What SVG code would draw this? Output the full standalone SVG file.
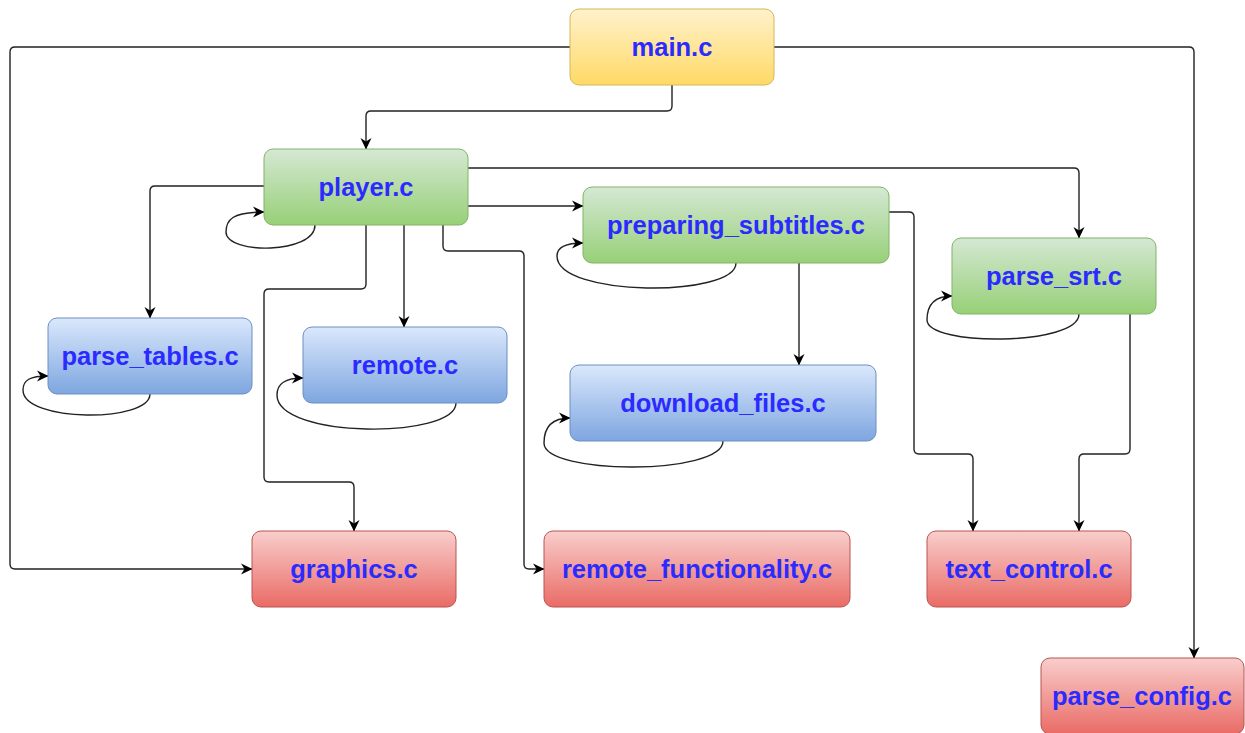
<svg xmlns="http://www.w3.org/2000/svg" width="1245" height="733" viewBox="0 0 1245 733">
<defs>
<linearGradient id="gY" x1="0" y1="0" x2="0" y2="1"><stop offset="0" stop-color="#fff2cc"/><stop offset="1" stop-color="#ffd966"/></linearGradient>
<linearGradient id="gG" x1="0" y1="0" x2="0" y2="1"><stop offset="0" stop-color="#d5e8d4"/><stop offset="1" stop-color="#97d077"/></linearGradient>
<linearGradient id="gB" x1="0" y1="0" x2="0" y2="1"><stop offset="0" stop-color="#dae8fc"/><stop offset="1" stop-color="#7ea6e0"/></linearGradient>
<linearGradient id="gR" x1="0" y1="0" x2="0" y2="1"><stop offset="0" stop-color="#f8cecc"/><stop offset="1" stop-color="#ea6b66"/></linearGradient>
<marker id="arr" markerWidth="14" markerHeight="14" refX="12" refY="7" orient="auto" markerUnits="userSpaceOnUse" viewBox="0 0 14 14">
<path d="M1,1.5 L12.5,7 L1,12.5 L4.5,7 Z" fill="#000"/>
</marker>
</defs>
<style>
.y{fill:url(#gY);stroke:#d6b656;stroke-width:1}
.g{fill:url(#gG);stroke:#82b366;stroke-width:1}
.b{fill:url(#gB);stroke:#6c8ebf;stroke-width:1}
.r{fill:url(#gR);stroke:#b85450;stroke-width:1}
text{font-family:"Liberation Sans",Arial,sans-serif;font-weight:bold;font-size:25.5px;fill:#2b2bff;text-anchor:middle}
#edges path{fill:none;stroke:#222;stroke-width:1.4;marker-end:url(#arr)}
</style>
<g id="edges">
<path d="M570,47 L15,47 Q10,47 10,52 L10,564 Q10,569 15,569 L252,569"/>
<path d="M774,47 L1189,47 Q1194,47 1194,52 L1194,658"/>
<path d="M672,85 L672,106 Q672,111 667,111 L371,111 Q366,111 366,116 L366,149"/>
<path d="M264,186 L155,186 Q150,186 150,191 L150,318"/>
<path d="M366,225 L366,284 Q366,289 361,289 L269,289 Q264,289 264,294 L264,477 Q264,482 269,482 L349,482 Q354,482 354,487 L354,531"/>
<path d="M404,225 L404,327"/>
<path d="M443,225 L443,246 Q443,251 448,251 L519,251 Q524,251 524,256 L524,564 Q524,569 529,569 L544,569"/>
<path d="M468,206 L583,206"/>
<path d="M468,168 L1074,168 Q1079,168 1079,173 L1079,238"/>
<path d="M799,263 L799,365"/>
<path d="M889,212 L909,212 Q914,212 914,217 L914,449 Q914,454 919,454 L968,454 Q973,454 973,459 L973,531"/>
<path d="M1130,314 L1130,449 Q1130,454 1125,454 L1084,454 Q1079,454 1079,459 L1079,531"/>
<path d="M315,225 C315,254.5 226,254.5 226,232 C226,220 232,212 264,212"/>
<path d="M150,394 C150,422.7 23,422.7 23,390 C23,380 30,376 48,376"/>
<path d="M456,403 C456,439 277,439 277,395 C277,384 284,378 303,378"/>
<path d="M736,263 C736,297.5 557,297.5 557,256 C557,248 564,243 583,243"/>
<path d="M1079,314 C1079,346.3 927,346.3 927,320 C927,305 934,296 952,296"/>
<path d="M723,441 C723,475.3 544,475.3 544,443 C544,428 551,418 570,418"/>
</g>
<g id="main"><rect class="y" x="570" y="9" width="204" height="76" rx="9"/><text x="672" y="56">main.c</text></g>
<g id="player"><rect class="g" x="264" y="149" width="204" height="76" rx="9"/><text x="366" y="196">player.c</text></g>
<g id="preparing_subtitles"><rect class="g" x="583" y="187" width="306" height="76" rx="9"/><text x="736" y="234">preparing_subtitles.c</text></g>
<g id="parse_srt"><rect class="g" x="952" y="238" width="204" height="76" rx="9"/><text x="1054" y="285">parse_srt.c</text></g>
<g id="parse_tables"><rect class="b" x="48" y="318" width="204" height="76" rx="9"/><text x="150" y="365">parse_tables.c</text></g>
<g id="remote"><rect class="b" x="303" y="327" width="204" height="76" rx="9"/><text x="405" y="374">remote.c</text></g>
<g id="download_files"><rect class="b" x="570" y="365" width="306" height="76" rx="9"/><text x="723" y="412">download_files.c</text></g>
<g id="graphics"><rect class="r" x="252" y="531" width="204" height="76" rx="9"/><text x="354" y="578">graphics.c</text></g>
<g id="remote_functionality"><rect class="r" x="544" y="531" width="306" height="76" rx="9"/><text x="697" y="578">remote_functionality.c</text></g>
<g id="text_control"><rect class="r" x="927" y="531" width="204" height="76" rx="9"/><text x="1029" y="578">text_control.c</text></g>
<g id="parse_config"><rect class="r" x="1041" y="658" width="203" height="76" rx="9"/><text x="1142" y="705">parse_config.c</text></g>
</svg>
